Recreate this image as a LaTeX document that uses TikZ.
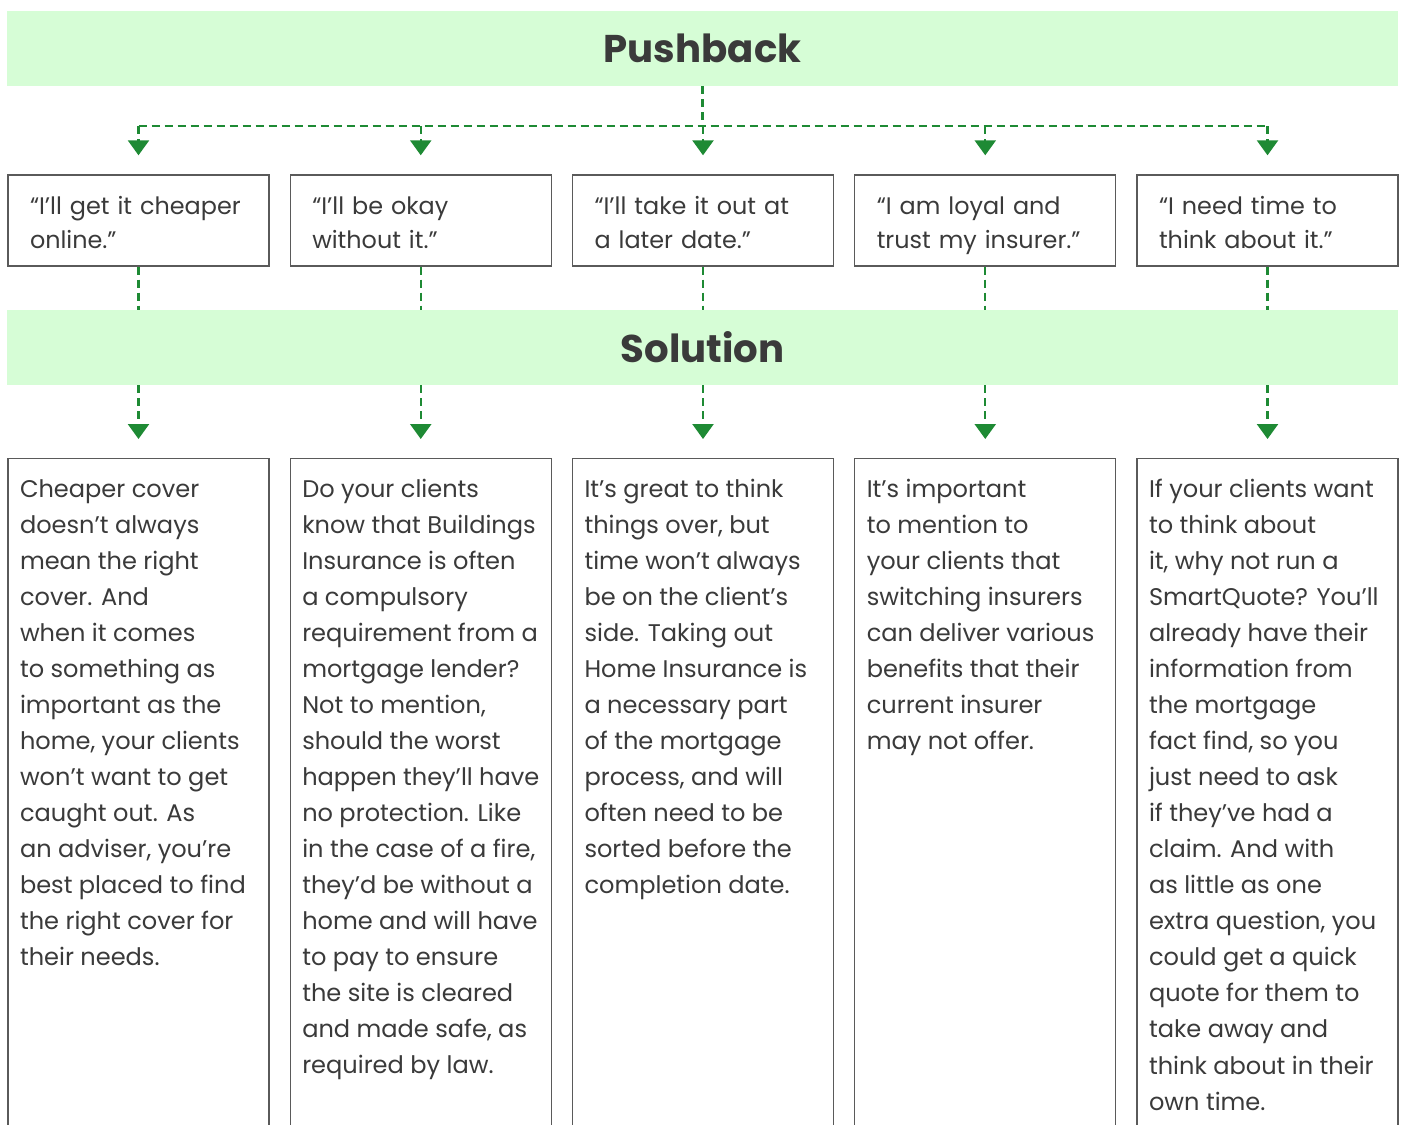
\documentclass[tikz,border=0pt]{standalone}
\usepackage{fontspec}
\setmainfont{Poppins}
\usetikzlibrary{arrows.meta}

\definecolor{bandgreen}{RGB}{214,253,214}
\definecolor{linkgreen}{RGB}{30,138,52}
\definecolor{inkgrey}{RGB}{58,58,58}
\definecolor{edgegrey}{RGB}{90,90,90}

\newcommand{\answerpar}[1]{\begin{minipage}[t][12.9cm][t]{4.74cm}\raggedright #1\end{minipage}}

\begin{document}
\begin{tikzpicture}[
  band/.style={fill=bandgreen,minimum width=27.82cm,minimum height=1.5cm,text=inkgrey,font=\fontsize{22}{26}\selectfont\bfseries},
  quote/.style={draw=edgegrey,line width=0.8pt,text=inkgrey,align=left,text width=4.34cm,inner xsep=0.44cm,minimum height=1.82cm,font=\fontsize{13.6}{19.3}\selectfont,execute at begin node={\rule{0pt}{18pt}},execute at end node=\strut},
  answer/.style={draw=edgegrey,line width=0.8pt,text=inkgrey,anchor=north,inner xsep=0.24cm,inner ysep=0.41cm,font=\fontsize{13.7}{20.5}\selectfont},
  link/.style={linkgreen,line width=1.4pt,dash pattern=on 0.16cm off 0.1cm},
  tip/.style={link,-{Triangle[width=0.42cm,length=0.3cm]},shorten >=0.38cm}
]
\useasboundingbox (0,0) rectangle (28.04,-22.48);

\node (P) at (14.05,-0.97) [band] {Pushback};
\node (S) at (14.05,-6.95) [band] {Solution};

\node (Q1) at (2.77,-4.41) [quote] {“I’ll get it cheaper\\online.”};
\node (Q2) at (8.415,-4.41) [quote] {“I’ll be okay\\without it.”};
\node (Q3) at (14.06,-4.41) [quote] {“I’ll take it out at\\a later date.”};
\node (Q4) at (19.705,-4.41) [quote] {“I am loyal and\\trust my insurer.”};
\node (Q5) at (25.35,-4.41) [quote] {“I need time to\\think about it.”};

\node (A1) at (2.77,-9.16) [answer] {\answerpar{Cheaper cover\\doesn’t always\\mean the right\\cover. And\\when it comes\\to something as\\important as the\\home, your clients\\won’t want to get\\caught out. As\\an adviser, you’re\\best placed to find\\the right cover for\\their needs.}};
\node (A2) at (8.415,-9.16) [answer] {\answerpar{Do your clients\\know that Buildings\\Insurance is often\\a compulsory\\requirement from a\\mortgage lender?\\Not to mention,\\should the worst\\happen they’ll have\\no protection. Like\\in the case of a fire,\\they’d be without a\\home and will have\\to pay to ensure\\the site is cleared\\and made safe, as\\required by law.}};
\node (A3) at (14.06,-9.16) [answer] {\answerpar{It’s great to think\\things over, but\\time won’t always\\be on the client’s\\side. Taking out\\Home Insurance is\\a necessary part\\of the mortgage\\process, and will\\often need to be\\sorted before the\\completion date.}};
\node (A4) at (19.705,-9.16) [answer] {\answerpar{It’s important\\to mention to\\your clients that\\switching insurers\\can deliver various\\benefits that their\\current insurer\\may not offer.}};
\node (A5) at (25.35,-9.16) [answer] {\answerpar{If your clients want\\to think about\\it, why not run a\\SmartQuote? You’ll\\already have their\\information from\\the mortgage\\fact find, so you\\just need to ask\\if they’ve had a\\claim. And with\\as little as one\\extra question, you\\could get a quick\\quote for them to\\take away and\\think about in their\\own time.}};

\coordinate (J) at (14.05,-2.52);

\draw [link] (P.south) -- (J);
\draw [link] (Q1.north |- J) -- (Q5.north |- J);
\draw [tip] (Q1.north |- J) -- (Q1.north);
\draw [tip] (Q2.north |- J) -- (Q2.north);
\draw [tip] (Q3.north |- J) -- (Q3.north);
\draw [tip] (Q4.north |- J) -- (Q4.north);
\draw [tip] (Q5.north |- J) -- (Q5.north);

\draw [link] (Q1.south) -- (Q1.south |- S.north);
\draw [link] (Q2.south) -- (Q2.south |- S.north);
\draw [link] (Q3.south) -- (Q3.south |- S.north);
\draw [link] (Q4.south) -- (Q4.south |- S.north);
\draw [link] (Q5.south) -- (Q5.south |- S.north);

\draw [tip] (A1.north |- S.south) -- (A1.north);
\draw [tip] (A2.north |- S.south) -- (A2.north);
\draw [tip] (A3.north |- S.south) -- (A3.north);
\draw [tip] (A4.north |- S.south) -- (A4.north);
\draw [tip] (A5.north |- S.south) -- (A5.north);

\end{tikzpicture}
\end{document}
